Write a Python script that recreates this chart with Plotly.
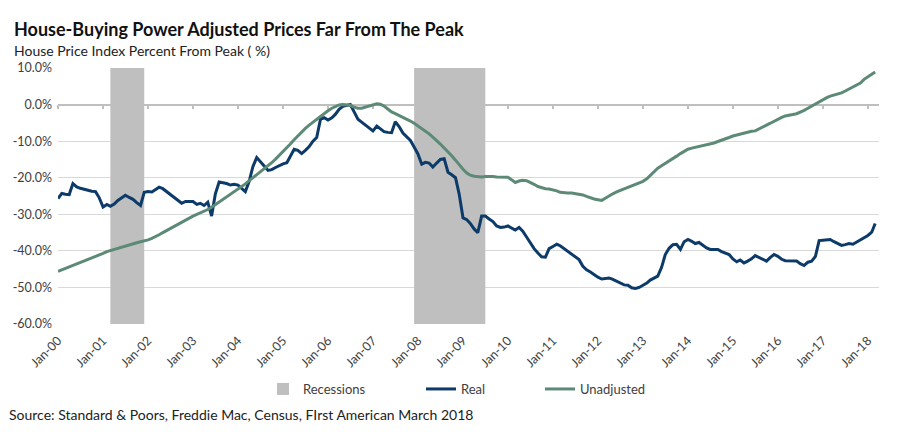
import pandas as pd
import plotly.graph_objects as go

# ---------------- data ----------------
start_month = "2000-01-01"
n_months = 219  # Jan-2000 .. Mar-2018

real = [
    # 2000
    -25.7, -24.3, -24.5, -24.6, -21.6, -22.5, -22.9, -23.2, -23.5, -23.7, -23.8, -25.5,
    # 2001
    -28.0, -27.3, -27.8, -27.2, -26.2, -25.5, -24.8, -25.4, -25.9, -26.8, -27.6, -24.0,
    # 2002
    -23.8, -23.9, -23.3, -22.6, -23.0, -23.8, -24.6, -25.5, -26.3, -27.0, -26.5, -26.4,
    # 2003
    -26.5, -27.3, -27.0, -27.6, -26.7, -30.5, -24.5, -21.2, -21.3, -21.6, -22.0, -21.8,
    # 2004
    -22.0, -22.9, -23.8, -21.0, -17.0, -14.5, -15.5, -16.8, -18.0, -17.8, -17.2, -16.6,
    # 2005
    -16.2, -15.9, -14.0, -12.2, -12.5, -13.4, -12.5, -11.5, -10.0, -9.0, -4.0, -3.6,
    # 2006
    -4.2, -3.6, -2.7, -1.3, -0.5, -0.2, 0.0, -2.0, -4.0, -4.8, -5.6, -6.6,
    # 2007
    -7.2, -5.9, -6.5, -7.4, -7.6, -7.7, -4.7, -6.0, -7.8, -8.9, -9.8, -11.6,
    # 2008
    -13.5, -16.3, -15.8, -16.0, -17.1, -16.0, -15.0, -14.8, -18.5, -19.2, -20.0, -24.5,
    # 2009
    -31.0, -31.5, -32.5, -34.0, -35.0, -30.5, -30.5, -31.3, -32.0, -33.2, -33.6, -33.5,
    # 2010
    -33.2, -33.8, -34.3, -33.6, -34.6, -36.2, -37.9, -39.4, -40.6, -41.6, -41.7, -39.4,
    # 2011
    -38.8, -38.2, -38.6, -39.4, -40.2, -41.0, -41.6, -42.4, -44.2, -45.2, -45.8, -46.6,
    # 2012
    -47.2, -47.7, -47.6, -47.4, -47.8, -48.3, -49.0, -49.3, -49.4, -50.1, -50.3, -50.0,
    # 2013
    -49.4, -48.8, -48.0, -47.4, -46.9, -44.5, -41.0, -39.3, -38.3, -38.2, -39.6, -37.5,
    # 2014
    -36.9, -37.4, -38.0, -37.7, -38.5, -39.2, -39.6, -39.6, -39.6, -40.2, -40.6, -41.0,
    # 2015
    -42.2, -43.0, -42.5, -43.3, -42.8, -42.2, -41.3, -41.8, -42.4, -42.8, -41.8, -41.0,
    # 2016
    -41.5, -42.3, -42.7, -42.8, -42.8, -42.8, -43.5, -44.0, -43.1, -42.8, -41.5, -37.2,
    # 2017
    -37.1, -37.0, -36.9, -37.5, -38.0, -38.5, -38.3, -38.0, -38.2, -37.6, -37.1, -36.6,
    # 2018
    -35.8, -34.9, -32.5,
]

unadjusted = [
    # 2000
    -45.6, -45.2, -44.8, -44.4, -44.0, -43.6, -43.2, -42.8, -42.4, -42.0, -41.6, -41.1,
    # 2001
    -40.7, -40.2, -39.9, -39.6, -39.3, -39.0, -38.7, -38.4, -38.1, -37.8, -37.5, -37.3,
    # 2002
    -37.0, -36.6, -36.2, -35.6, -35.0, -34.4, -33.9, -33.3, -32.7, -32.1, -31.6, -31.1,
    # 2003
    -30.5, -30.0, -29.6, -29.2, -28.7, -28.1, -27.4, -26.7, -26.0, -25.3, -24.6, -23.9,
    # 2004
    -23.2, -22.5, -21.7, -20.8, -20.0, -19.2, -18.5, -17.6, -16.8, -15.9, -14.9, -13.9,
    # 2005
    -12.9, -11.9, -10.8, -9.6, -8.5, -7.5, -6.5, -5.6, -4.8, -3.9, -3.1, -2.4,
    # 2006
    -1.7, -1.0, -0.5, -0.1, 0.0, 0.0, -0.2, -0.7, -1.0, -1.0, -0.7, -0.5,
    # 2007
    -0.2, 0.2, 0.1, -0.4, -1.2, -2.0, -2.5, -3.0, -3.4, -3.9, -4.5, -5.1,
    # 2008
    -5.8, -6.5, -7.2, -8.0, -8.9, -9.8, -10.8, -11.9, -12.9, -14.0, -15.2, -16.6,
    # 2009
    -17.7, -18.7, -19.3, -19.6, -19.8, -19.8, -19.7, -19.6, -19.7, -19.8, -19.8, -19.9,
    # 2010
    -19.9, -20.6, -21.3, -20.9, -20.7, -20.8, -21.2, -21.8, -22.4, -22.8, -23.0, -23.1,
    # 2011
    -23.3, -23.6, -24.0, -24.2, -24.2, -24.2, -24.3, -24.4, -24.7, -25.1, -25.5, -25.8,
    # 2012
    -26.0, -26.2, -25.6, -24.9, -24.4, -23.9, -23.5, -23.1, -22.7, -22.4, -22.0, -21.5,
    # 2013
    -21.0, -20.3, -19.4, -18.4, -17.4, -16.7, -16.0, -15.4, -14.6, -14.1, -13.4, -12.8,
    # 2014
    -12.2, -11.9, -11.7, -11.5, -11.3, -11.1, -10.9, -10.5, -10.1, -9.8, -9.4, -9.0,
    # 2015
    -8.6, -8.3, -8.1, -7.8, -7.4, -7.3, -7.2, -6.6, -6.0, -5.6, -5.1, -4.5,
    # 2016
    -3.9, -3.5, -3.1, -2.8, -2.7, -2.5, -2.1, -1.6, -1.0, -0.4, 0.1, 0.8,
    # 2017
    1.4, 1.9, 2.3, 2.6, 2.9, 3.2, 3.7, 4.3, 4.8, 5.3, 5.9, 6.9,
    # 2018
    7.7, 8.3, 8.9,
]

recession_starts = ["2001-03-01", "2007-12-01"]
recession_ends = ["2001-12-01", "2009-07-01"]

year_ticks = [f"{y}-01-01" for y in range(2000, 2019)]
year_labels = [f"Jan-{y % 100:02d}" for y in range(2000, 2019)]

y_tick_vals = [10, 0, -10, -20, -30, -40, -50, -60]
y_tick_labels = ["10.0%", "0.0%", "-10.0%", "-20.0%", "-30.0%", "-40.0%", "-50.0%", "-60.0%"]

y_min, y_max = -60, 10

# ---------------- figure ----------------
dates = pd.date_range(start_month, periods=n_months, freq="MS")
rec_start = pd.to_datetime(recession_starts)
rec_end = pd.to_datetime(recession_ends)
rec_width_ms = [(e - s).total_seconds() * 1000 for s, e in zip(rec_start, rec_end)]

FONT = "Lato"
TXT = "#404040"
REAL_C = "#0c3a69"
UNADJ_C = "#5c8a76"
REC_C = "#bfbfbf"

fig = go.Figure()

fig.add_trace(go.Bar(
    x=rec_start, y=[y_max - y_min] * len(rec_start), base=y_min,
    width=rec_width_ms, offset=0, marker=dict(color=REC_C, line=dict(width=0)),
    name="Recessions", legend="legend", hoverinfo="skip",
))
fig.add_trace(go.Scatter(
    x=dates, y=real, mode="lines", name="Real",
    line=dict(color=REAL_C, width=3), legend="legend2",
))
fig.add_trace(go.Scatter(
    x=dates, y=unadjusted, mode="lines", name="Unadjusted",
    line=dict(color=UNADJ_C, width=3), legend="legend2",
))
# invisible trace so the tick axis at 0% is drawn
fig.add_trace(go.Scatter(
    x=[dates[0]], y=[None], xaxis="x2", yaxis="y", showlegend=False,
    hoverinfo="skip", mode="lines",
))

x_range = ["2000-01-01", "2018-04-01"]

# plot area in page pixels: x 58..879, y 68..324 (page body has 8px margin)
PW, PH = 821, 256
def px_x(x):
    return (x - 58) / PW
def px_y(y):
    return (324 - y) / PH

fig.update_layout(
    width=897, height=427,
    margin=dict(l=50, r=26, t=60, b=111, autoexpand=False),
    paper_bgcolor="white", plot_bgcolor="white",
    font=dict(family=FONT, size=13, color=TXT),
    showlegend=True,
    xaxis=dict(
        type="date", range=x_range, tickmode="array",
        tickvals=year_ticks, ticktext=year_labels, tickangle=-45,
        showgrid=False, zeroline=False, showline=False, ticks="",
        ticklabelstandoff=6, automargin=False,
        tickfont=dict(family=FONT, size=12.5, color=TXT),
    ),
    xaxis2=dict(
        type="date", range=x_range, overlaying="x", anchor="free",
        position=(0 - y_min) / (y_max - y_min),
        tickmode="array", tickvals=year_ticks, showticklabels=False,
        showgrid=False, zeroline=False, showline=True,
        linecolor="#bfbfbf", linewidth=1.5, ticks="outside",
        ticklen=4, tickcolor="#bfbfbf", tickwidth=1.5, layer="below traces",
    ),
    yaxis=dict(
        range=[y_min, y_max], tickmode="array", tickvals=y_tick_vals,
        ticktext=y_tick_labels, showgrid=True, gridcolor="#d9d9d9",
        gridwidth=1, zeroline=False, showline=False, ticks="",
        ticklabelstandoff=5, automargin=False,
        tickfont=dict(family=FONT, size=12.5, color=TXT),
        layer="below traces",
    ),
    legend=dict(
        orientation="h", x=px_x(263), xanchor="left",
        y=px_y(389), yanchor="middle",
        font=dict(size=13, color=TXT), bgcolor="rgba(0,0,0,0)",
    ),
    legend2=dict(
        orientation="h", x=px_x(421), xanchor="left",
        y=px_y(389), yanchor="middle", entrywidth=74,
        font=dict(size=13, color=TXT), bgcolor="rgba(0,0,0,0)",
    ),
    annotations=[
        dict(text="<b>House-Buying Power Adjusted Prices Far From The Peak</b>",
             xref="paper", yref="paper", x=px_x(12), y=px_y(29),
             xanchor="left", yanchor="middle", showarrow=False,
             font=dict(family=FONT, size=18, color="#111111")),
        dict(text="House Price Index Percent From Peak ( %)",
             xref="paper", yref="paper", x=px_x(12), y=px_y(50),
             xanchor="left", yanchor="middle", showarrow=False,
             font=dict(family=FONT, size=14, color="#222222")),
        dict(text="Source: Standard &amp; Poors, Freddie Mac, Census, FIrst American March 2018",
             xref="paper", yref="paper", x=px_x(7), y=px_y(414),
             xanchor="left", yanchor="middle", showarrow=False,
             font=dict(family=FONT, size=14, color="#222222")),
    ],
)

fig.write_html("out.html")
